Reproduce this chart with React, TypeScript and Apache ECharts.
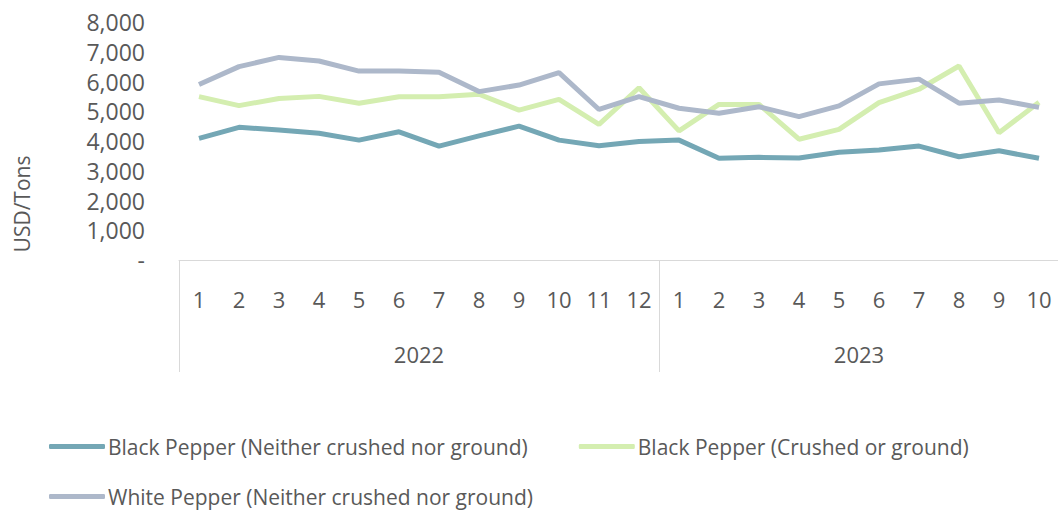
import React, { useEffect, useRef } from "react";
import * as echarts from "echarts";

const months: string[] = [
  "1", "2", "3", "4", "5", "6", "7", "8", "9", "10", "11", "12",
  "1", "2", "3", "4", "5", "6", "7", "8", "9", "10",
];
const years: string[] = ["2022", "2023"];
const yearCenters: number[] = [6, 17];

const blackWhole: number[] = [
  4090, 4460, 4370, 4260, 4030, 4310, 3830, 4170, 4500, 4030, 3840, 3980,
  4030, 3420, 3450, 3430, 3620, 3700, 3830, 3470, 3670, 3420,
];
const blackGround: number[] = [
  5490, 5190, 5430, 5500, 5270, 5490, 5490, 5570, 5040, 5400, 4560, 5790,
  4340, 5230, 5230, 4060, 4390, 5290, 5740, 6520, 4280, 5300,
];
const whiteWhole: number[] = [
  5900, 6500, 6810, 6690, 6350, 6350, 6310, 5660, 5880, 6300, 5060, 5490,
  5100, 4930, 5150, 4820, 5180, 5920, 6080, 5270, 5380, 5130,
];

const seriesNames: string[] = [
  "Black Pepper (Neither crushed nor ground)",
  "Black Pepper (Crushed or ground)",
  "White Pepper (Neither crushed nor ground)",
];
const colors: string[] = ["#74A7B5", "#D4EEB0", "#ADB8CA"];

const FONT = "'Open Sans', 'Noto Sans', sans-serif";
const TEXT = "#595959";
const LINE = "#D9D9D9";

export default function App() {
  const ref = useRef<HTMLDivElement>(null);

  useEffect(() => {
    if (!ref.current) return;
    const chart = echarts.init(ref.current, undefined, { renderer: "svg" });
    const data = [blackWhole, blackGround, whiteWhole];
    const legendText = { fontFamily: FONT, fontSize: 21, color: TEXT, padding: [0, 0, 0, -2] };
    chart.setOption({
      animation: false,
      backgroundColor: "#ffffff",
      textStyle: { fontFamily: FONT },
      grid: {
        left: 179,
        top: 22,
        right: -1,
        bottom: 250,
        containLabel: false,
        outerBoundsMode: "none",
      },
      legend: [
        {
          data: [seriesNames[0], seriesNames[1]],
          left: 44,
          top: 431,
          itemGap: 51,
          itemWidth: 56,
          itemHeight: 5,
          icon: "roundRect",
          textStyle: legendText,
        },
        {
          data: [seriesNames[2]],
          left: 44,
          top: 481,
          itemWidth: 56,
          itemHeight: 5,
          icon: "roundRect",
          textStyle: legendText,
        },
      ],
      xAxis: [
        {
          type: "category",
          data: months,
          position: "bottom",
          boundaryGap: true,
          axisLine: { show: true, lineStyle: { color: LINE, width: 1 } },
          axisTick: {
            show: true,
            length: 112,
            interval: (index: number) => index === 0 || index === 12,
            lineStyle: { color: LINE, width: 1 },
          },
          axisLabel: {
            interval: 0,
            margin: 28,
            fontFamily: FONT,
            fontSize: 22,
            color: TEXT,
          },
          splitLine: { show: false },
        },
        {
          type: "value",
          position: "bottom",
          min: 0,
          max: 22,
          interval: 1,
          axisLine: { show: false },
          axisTick: { show: false },
          splitLine: { show: false },
          axisLabel: {
            margin: 83,
            fontFamily: FONT,
            fontSize: 22,
            color: TEXT,
            formatter: (v: number) => {
              const i = yearCenters.indexOf(v);
              return i >= 0 ? years[i] : "";
            },
          },
        },
      ],
      yAxis: {
        type: "value",
        min: 0,
        max: 8000,
        interval: 1000,
        axisLine: { show: false },
        axisTick: { show: false },
        splitLine: { show: false },
        axisLabel: {
          margin: 34,
          fontFamily: FONT,
          fontSize: 23,
          lineHeight: 23,
          color: TEXT,
          formatter: (v: number) => (v === 0 ? "-" : v.toLocaleString("en-US")),
        },
      },
      graphic: [
        {
          type: "text",
          x: 22,
          y: 204,
          rotation: Math.PI / 2,
          style: {
            text: "USD/Tons",
            fontFamily: FONT,
            fontSize: 21,
            fill: TEXT,
            textAlign: "center",
            textVerticalAlign: "middle",
          },
        },
      ],
      series: data.map((d, i) => ({
        name: seriesNames[i],
        type: "line",
        xAxisIndex: 0,
        data: d,
        symbol: "none",
        showSymbol: false,
        lineStyle: { color: colors[i], width: 5 },
        itemStyle: { color: colors[i] },
      })),
    });
    return () => chart.dispose();
  }, []);

  return (
    <div
      ref={ref}
      style={{ position: "fixed", left: 0, top: 0, width: 1058, height: 510 }}
    />
  );
}
